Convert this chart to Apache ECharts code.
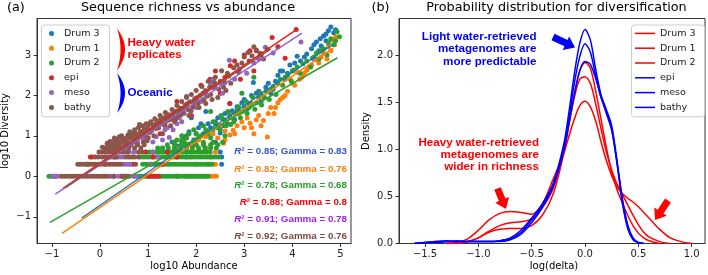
<!DOCTYPE html>
<html>
<head>
<meta charset="utf-8">
<title>Sequence richness / diversification</title>
<script src="https://cdn.jsdelivr.net/npm/echarts@6/dist/echarts.min.js"></script>
<style>
  html, body { margin: 0; padding: 0; background: #fff; }
  #chart { width: 708px; height: 275px; }
</style>
</head>
<body>
<div id="chart"></div>
<script>
// ---- panel (a): log10 abundance vs log10 diversity ----
const drum3Pts = [
  [1.6,0],[1.9,0],[2.1,0],[2.53,0.301],[1.8,0.477],[2.53,0.477],[1.5,0.602],[2.5,0.602],[2.2,0.699],[1.95,0.778],[2.4,0.845],
  [1.3,0.7],[1.5,0.85],[1.62,0.75],[1.75,0.95],[1.85,1.1],[1.95,0.9],[2.05,1.2],[2.15,1.05],[2.25,1.3],[2.35,1.15],[2.45,1.45],
  [2.5,1.07],[2.6,1.55],[2.65,1.3],[2.75,1.62],[2.85,1.72],[2.8,1.4],[2.95,1.82],[3.05,1.65],[3.15,2.0],[3.19,2.32],[3.3,2.1],
  [3.4,1.97],[3.5,2.3],[3.6,2.15],[3.7,2.5],[3.75,2.6],[3.85,2.4],[3.95,2.75],[4.02,2.62],[4.1,2.97],[4.17,2.85],[4.3,3.02],
  [4.4,3.15],[4.5,3.32],[4.55,3.1],[4.65,3.47],[4.7,3.35],[4.75,3.6],[4.8,3.69],[4.86,3.55],[4.6,3.22],[4.42,2.92],[1.9,1.45],
  [2.2,1.6],[3.35,1.85],[3.9,2.55],
  [1.7,0.85],[1.8,1.0],[2.0,1.05],[2.1,1.3],[2.3,1.2],[2.4,1.35],[2.55,1.25],[2.7,1.45],[2.9,1.6],[3.0,1.9],[3.1,1.8],
  [3.25,2.05],[3.45,2.2],[3.55,2.05],[3.65,2.35],[3.8,2.6],[4.05,2.8],[4.25,2.95],[4.45,3.25],[4.58,3.4],[4.7,3.52],[4.9,3.62]
];
const drum1Pts = [
  [1.8,0],[2.0,0],[2.2,0],[2.3,0],[2.36,0],[2.42,0],[2.0,0.301],[2.25,0.301],[2.4,0.301],[1.9,0.477],[2.3,0.477],[1.7,0.602],
  [2.1,0.602],[2.4,0.602],[2.2,0.699],[2.57,0.82],[2.0,0.778],
  [1.6,0.68],[1.8,0.8],[2.05,0.9],[2.2,0.98],[2.35,1.05],[2.45,0.95],[2.6,1.12],[2.7,1.02],[2.77,1.14],[2.85,1.25],[3.0,1.2],
  [3.06,1.44],[3.12,1.31],[3.2,1.05],[3.3,1.5],[3.4,1.38],[3.48,0.97],[3.55,1.7],[3.62,1.55],[3.7,1.82],[3.8,1.95],[3.9,2.1],
  [3.96,2.39],[4.05,2.25],[4.1,2.57],[4.2,2.45],[4.3,2.62],[4.4,2.75],[4.5,2.88],[4.6,2.95],[4.72,2.9],[4.8,3.1],[4.83,3.37],
  [4.88,3.25],[4.9,3.45],[2.5,1.25],[2.9,1.55],
  [2.6,0.9],[2.8,1.05],[2.95,1.35],[3.15,1.2],[3.25,1.4],[3.35,1.25],[3.5,1.55],[3.65,1.7],[3.75,1.9],[3.85,2.0],[4.0,2.3],
  [4.15,2.4],[4.25,2.55],[4.35,2.7],[4.55,2.8],[4.65,3.05],[4.75,3.2]
];
const drum2Pts = [
  [-1.06,0],[-1.0,0],[-0.95,0],
  [0.75,0],[0.81,0],[0.87,0],[0.93,0],[0.99,0],[1.05,0],[1.11,0],[1.17,0],[1.23,0],[1.29,0],[1.35,0],[1.41,0],[1.47,0],[1.53,0],
  [1.59,0],[1.65,0],[1.71,0],[1.77,0],[1.83,0],[1.89,0],[1.95,0],[2.01,0],[2.07,0],[2.13,0],[2.19,0],[2.25,0],
  [0.89,0.301],[0.95,0.301],[1.01,0.301],[1.07,0.301],[1.13,0.301],[1.19,0.301],[1.25,0.301],[1.31,0.301],[1.37,0.301],
  [1.43,0.301],[1.49,0.301],[1.55,0.301],[1.61,0.301],[1.67,0.301],[1.73,0.301],[1.79,0.301],[1.85,0.301],[1.91,0.301],
  [1.97,0.301],[2.03,0.301],[2.09,0.301],[2.15,0.301],[2.21,0.301],[2.27,0.301],[2.33,0.301],
  [0.85,0.477],[0.91,0.477],[0.97,0.477],[1.03,0.477],[1.09,0.477],[1.15,0.477],[1.21,0.477],[1.27,0.477],[1.33,0.477],
  [1.39,0.477],[1.45,0.477],[1.51,0.477],[1.57,0.477],[1.63,0.477],[1.69,0.477],[1.75,0.477],[1.81,0.477],[1.87,0.477],
  [1.93,0.477],[1.99,0.477],[2.05,0.477],[2.11,0.477],[2.17,0.477],[2.23,0.477],[2.29,0.477],[2.35,0.477],[2.41,0.477],[2.47,0.477],
  [0.96,0.602],[1.03,0.602],[1.1,0.602],[1.17,0.602],[1.24,0.602],[1.31,0.602],[1.38,0.602],[1.45,0.602],[1.52,0.602],
  [1.59,0.602],[1.66,0.602],[1.73,0.602],[1.8,0.602],[1.87,0.602],[1.94,0.602],[2.01,0.602],[2.08,0.602],[2.15,0.602],
  [2.22,0.602],[2.29,0.602],
  [1.2,0.699],[1.3,0.699],[1.42,0.699],[1.55,0.699],[1.68,0.699],[1.8,0.699],[1.92,0.699],[2.05,0.699],[2.18,0.699],[2.3,0.699],[2.42,0.699],
  [1.4,0.778],[1.55,0.778],[1.7,0.778],[1.85,0.778],[2.0,0.778],[2.15,0.778],[2.3,0.778],[2.45,0.778],
  [1.55,0.845],[1.75,0.845],[1.95,0.845],[2.15,0.845],[2.35,0.845],[2.55,0.845],
  [1.7,0.903],[2.0,0.903],[2.3,0.954],[2.6,1.0],[2.1,1.0],
  [2.4,1.3],[2.5,1.15],[2.55,1.42],[2.62,1.25],[2.7,1.5],[2.78,1.35],[2.85,1.62],[2.92,1.45],[3.0,1.72],[3.06,1.55],[3.15,1.8],
  [3.22,1.66],[3.3,1.95],[3.36,1.76],[3.45,2.1],[3.52,1.9],[3.6,2.22],[3.66,2.02],[3.75,2.4],[3.8,2.25],[3.9,2.5],[3.98,2.35],
  [4.1,2.7],[4.16,2.55],[4.3,2.85],[4.38,2.7],[4.5,3.05],[4.55,2.9],[4.65,3.15],[4.72,3.0],[4.8,3.4],[4.86,3.25],[4.93,3.57],
  [4.98,3.45],[3.2,2.45],[2.3,1.6],[2.95,2.05],[2.2,1.15],[2.0,1.05],[1.8,0.95],[2.7,1.8],
  [1.6,0.9],[1.7,1.0],[1.85,1.05],[1.95,1.15],[2.05,0.95],[2.15,1.25],[2.25,1.05],[2.35,1.35],[2.45,1.2],[2.52,1.5],
  [2.6,1.38],[2.66,1.6],[2.72,1.28],[2.8,1.55],[2.88,1.72],[2.96,1.6],[3.04,1.85],[3.1,1.7],[3.18,1.95],[3.26,1.82],
  [3.34,2.05],[3.42,1.95],[3.55,2.12],[3.7,2.3],[3.85,2.45],[4.0,2.6],[4.22,2.78],[4.45,2.95],[4.6,3.1],[4.75,3.3],[4.9,3.35]
];
const epiPts = [
  [0.45,0],[0.5,0],[1.0,0],[1.08,0],[1.15,0],[1.22,0],[-0.26,0.301],[0.09,0.301],[0.68,0.301],[1.3,0.301],[-0.2,0.477],
  [-0.16,0.477],[0.3,0.477],[1.1,0.477],[1.6,0.477],[0.95,0.602],[1.4,0.602],
  [0.2,0.85],[0.5,0.75],[0.7,1.05],[1.0,1.15],[1.25,1.05],[1.35,1.3],[1.5,1.42],[1.7,1.6],[1.9,1.5],[2.0,1.9],[2.1,2.25],
  [2.29,2.4],[2.5,2.05],[2.7,1.8],[2.71,2.73],[2.8,2.85],[2.92,2.4],[3.0,3.0],[3.12,3.1],[3.2,2.6],[3.25,3.1],[3.58,3.43],
  [3.85,2.92],[4.08,3.63],[1.6,1.85],[2.4,2.6],
  [0.9,1.0],[1.15,1.2],[1.8,1.75],[2.2,2.1],[2.6,2.45],[3.35,3.0],[3.7,3.2]
];
const mesoPts = [
  [-0.98,0],[-0.92,0],[-0.88,0],[0.22,0],[0.3,0],[0.38,0],[0.55,0],[0.62,0],[0.7,0],[0.76,0],[0.5,0.301],[0.56,0.301],
  [0.62,0.301],[1.05,0.301],[0.36,0.477],[0.42,0.477],[0.48,0.477],[1.2,0.477],[0.6,0.602],[0.7,0.602],[1.1,0.602],
  [0.3,0.7],[0.15,0.78],[0.6,0.9],[0.78,0.85],[0.9,0.9],[1.0,0.95],[1.1,0.85],[1.17,0.98],[1.3,0.9],[1.44,0.96],[1.35,1.15],
  [1.2,1.3],[0.95,1.2],[1.6,1.3],[1.65,1.45],[1.75,1.55],[1.9,1.62],[1.8,1.98],[2.1,1.85],[2.19,2.12],[2.3,2.3],[2.4,2.19],
  [2.35,2.4],[2.55,2.05],[2.69,2.87],[2.8,2.4],[3.05,2.55],[3.2,2.8],[3.44,3.19],[3.6,3.05],[4.18,3.32],
  [0.5,0.78],[0.85,1.05],[1.05,1.1],[1.4,1.2],[1.52,1.15],[1.7,1.35],[2.0,1.7],[2.25,2.0],[2.5,2.3],[2.9,2.65],[3.3,2.9]
];
const bathyPts = [
  [-0.8,0],[-0.74,0],[-0.68,0],[-0.62,0],[-0.56,0],[-0.5,0],[-0.44,0],[-0.38,0],[-0.32,0],[-0.26,0],[-0.2,0],[-0.14,0],
  [-0.08,0],[-0.02,0],[0.04,0],[0.1,0],[0.16,0],[0.28,0],[0.46,0],[0.52,0],[0.58,0],
  [-0.46,0.301],[-0.4,0.301],[-0.34,0.301],[-0.28,0.301],[-0.22,0.301],[-0.16,0.301],[-0.1,0.301],[-0.04,0.301],[0.02,0.301],
  [0.14,0.301],[0.2,0.301],[0.26,0.301],[0.32,0.301],[0.38,0.301],[0.44,0.301],[0.74,0.301],
  [-0.1,0.477],[-0.04,0.477],[0.04,0.477],[0.1,0.477],[0.16,0.477],[0.22,0.477],[0.28,0.477],[0.34,0.477],[0.54,0.477],
  [0.6,0.477],[0.66,0.477],[0.72,0.477],[0.8,0.477],
  [-0.02,0.602],[0.04,0.602],[0.1,0.602],[0.16,0.602],[0.22,0.602],[0.28,0.602],[0.34,0.602],[0.4,0.602],[0.48,0.602],
  [0.56,0.602],[0.8,0.602],[0.88,0.602],
  [0.1,0.699],[0.18,0.699],[0.26,0.699],[0.34,0.699],[0.42,0.699],[0.5,0.699],[0.6,0.699],[0.72,0.699],[0.85,0.699],
  [0.2,0.778],[0.3,0.778],[0.4,0.778],[0.52,0.778],[0.64,0.778],[0.78,0.778],[0.92,0.778],
  [0.28,0.845],[0.4,0.845],[0.55,0.845],[0.7,0.845],[0.9,0.845],
  [0.35,0.903],[0.5,0.903],[0.62,0.954],[0.8,0.954],[1.0,0.954],[0.45,0.954],
  [0.45,1.0],[0.52,0.92],[0.58,1.02],[0.62,1.1],[0.68,1.0],[0.72,1.15],[0.76,1.05],[0.8,1.2],[0.84,1.1],[0.88,1.25],
  [0.92,1.15],[0.96,1.3],[1.0,1.2],[1.03,1.08],[1.06,1.35],[1.1,1.25],[1.14,1.42],[1.17,1.18],[1.2,1.36],[1.25,1.5],
  [1.28,1.3],[1.32,1.44],[1.36,1.58],[1.4,1.38],[1.43,1.52],[1.47,1.25],[1.5,1.65],[1.53,1.46],[1.57,1.6],[1.6,1.75],
  [1.63,1.5],[1.67,1.68],[1.7,1.85],[1.73,1.58],[1.77,1.76],[1.8,1.95],[1.83,1.65],[1.87,1.84],[1.9,2.02],[1.93,1.72],
  [1.97,1.92],[2.0,2.12],[2.04,1.8],[2.08,2.0],[2.12,2.22],[2.16,1.88],[2.2,2.1],[2.25,2.35],[2.3,2.02],[2.35,2.2],
  [2.4,2.45],[2.47,2.15],[2.53,2.61],[2.6,2.32],[2.68,2.48],[2.78,2.68],[2.88,2.58],[3.0,2.95],[3.08,3.06],[3.16,2.98],
  [3.25,3.12],[3.33,3.04],[3.4,2.9],[3.48,3.14],[2.45,1.95],[1.3,1.05],[1.55,1.35],[2.62,2.12],[0.3,0.95],[0.15,0.82],
  [1.12,1.0],[0.98,0.88],[0.74,0.9],[1.85,1.5],[2.2,1.8],
  [0.05,0.72],[0.12,0.66],[0.22,0.86],[0.26,0.74],[0.36,0.82],[0.4,0.98],[0.48,0.86],[0.55,0.95],[0.6,0.8],[0.66,1.06],
  [0.7,0.92],[0.78,0.98],[0.82,1.28],[0.86,1.02],[0.9,1.12],[0.94,1.0],[1.02,1.3],[1.08,1.14],[1.16,1.3],[1.22,1.2],
  [1.26,1.4],[1.34,1.26],[1.38,1.48],[1.45,1.4],[1.52,1.55],[1.58,1.42],[1.62,1.62],[1.68,1.52],[1.75,1.68],[1.82,1.8],
  [1.88,1.62],[1.95,1.82],[2.02,1.95],[2.06,1.7],[2.14,2.05],[2.22,1.98],[2.28,2.2],[2.33,1.9],[2.38,2.32],[2.5,2.35],
  [2.57,2.2],[2.65,2.55],[2.72,2.3],[2.85,2.75],[2.95,2.8],[3.1,2.85],[3.2,3.2]
];
// regression lines (end points)
const drum3Fit = [[-0.38,-1.03],[4.85,3.27]];
const drum1Fit = [[-0.79,-1.41],[4.85,3.17]];
const drum2Fit = [[-1.04,-1.14],[4.94,2.93]];
const epiFit   = [[-0.77,-0.3],[4.1,3.64]];
const mesoFit  = [[-0.93,-0.44],[4.2,3.54]];
const bathyFit = [[-0.72,-0.28],[3.55,3.15]];
const fitLabels = [
  'R² = 0.85; Gamma = 0.83', 'R² = 0.82; Gamma = 0.76', 'R² = 0.78; Gamma = 0.68',
  'R² = 0.88; Gamma = 0.8', 'R² = 0.91; Gamma = 0.78', 'R² = 0.92; Gamma = 0.76'
];
const abundTicks = [-1, 0, 1, 2, 3, 4, 5];
const divTicks = [-1, 0, 1, 2, 3];

// ---- panel (b): KDE of log(delta) ----
const kdeX = [-1.6,-1.5,-1.4,-1.3,-1.2,-1.1,-1.0,-0.9,-0.8,-0.7,-0.6,-0.5,-0.4,-0.3,-0.2,-0.15,-0.1,-0.05,0,
  0.05,0.1,0.15,0.2,0.25,0.3,0.35,0.4,0.45,0.5,0.55,0.6,0.7,0.8,0.9,1.0];
const drum3Kde = ['-','-','-',0.0,0.01,0.05,0.14,0.25,0.32,0.34,0.33,0.31,0.42,0.68,0.95,1.14,1.32,1.46,1.51,
  1.45,1.3,1.08,0.88,0.72,0.6,0.53,0.48,0.44,0.39,0.33,0.27,0.15,0.06,0.02,0.0];
const drum1Kde = ['-','-','-',0.0,0.0,0.02,0.06,0.13,0.19,0.22,0.23,0.26,0.38,0.58,0.98,1.28,1.58,1.83,1.92,
  1.86,1.62,1.32,1.02,0.76,0.57,0.43,0.3,0.19,0.11,0.06,0.03,0.0,'-','-','-'];
const drum2Kde = ['-','-','-',0.0,0.0,0.02,0.06,0.12,0.15,0.16,0.16,0.19,0.3,0.52,0.95,1.26,1.55,1.74,1.77,
  1.7,1.48,1.22,0.97,0.78,0.63,0.52,0.41,0.3,0.2,0.12,0.07,0.02,0.0,'-','-'];
const epiKde = [0.0,0.01,0.02,0.03,0.02,0.02,0.02,0.02,0.02,0.04,0.1,0.22,0.38,0.6,1.0,1.33,1.7,1.98,2.12,
  2.03,1.78,1.55,1.4,1.22,0.85,0.43,0.16,0.04,0.01,0.0,'-','-','-','-','-'];
const mesoKde = [0.0,0.01,0.02,0.02,0.02,0.02,0.02,0.02,0.03,0.06,0.14,0.27,0.42,0.63,1.05,1.4,1.8,2.12,2.27,
  2.16,1.85,1.58,1.42,1.25,0.88,0.46,0.18,0.05,0.01,0.0,'-','-','-','-','-'];
const bathyKde = [0.0,0.01,0.01,0.02,0.03,0.02,0.02,0.02,0.03,0.05,0.12,0.25,0.4,0.62,0.98,1.28,1.58,1.83,1.93,
  1.9,1.75,1.55,1.38,1.2,0.86,0.48,0.2,0.06,0.01,0.0,'-','-','-','-','-'];
const deltaTicks = [-1.5, -1.0, -0.5, 0.0, 0.5, 1.0];
const densTicks = [0.0, 0.5, 1.0, 1.5, 2.0];

const groups = ['Drum 3', 'Drum 1', 'Drum 2', 'epi', 'meso', 'bathy'];
const dotColors = ['#1f77b4', '#ff7f0e', '#2ca02c', '#d62728', '#9467bd', '#8c564b'];
const fitColors = ['#1f77b4', '#ff7f0e', '#2ca02c', '#ee1c1c', '#9a5fd0', '#8c564b'];
const labelColors = ['#3557c8', '#ff7f0e', '#2e9a2e', '#ff0000', '#a020f0', '#7f4a40'];

const FONT = '"DejaVu Sans", sans-serif';
const BOLD = '"Liberation Sans", Arial, sans-serif';
const minus = (s) => s.replace('-', '\u2212');

const chart = echarts.init(document.getElementById('chart'), null, { renderer: 'canvas' });

function valueAxis(gridIndex, min, max, ticks, fmt) {
  return {
    type: 'value', gridIndex, min, max,
    axisLine: { show: true, onZero: false, lineStyle: { color: '#333', width: 1 } },
    axisTick: { show: true, customValues: ticks, length: 3.5, lineStyle: { color: '#333' } },
    axisLabel: { customValues: ticks, formatter: fmt, fontSize: 10, fontFamily: FONT, color: '#222', margin: 6 },
    splitLine: { show: false },
  };
}

function arrow(tail, tip, bodyW, headW, headL, color) {
  const dx = tip[0] - tail[0], dy = tip[1] - tail[1];
  const len = Math.hypot(dx, dy);
  const ux = dx / len, uy = dy / len, nx = -uy, ny = ux;
  const neck = [tip[0] - ux * headL, tip[1] - uy * headL];
  const pts = [
    [tail[0] + nx * bodyW / 2, tail[1] + ny * bodyW / 2],
    [neck[0] + nx * bodyW / 2, neck[1] + ny * bodyW / 2],
    [neck[0] + nx * headW / 2, neck[1] + ny * headW / 2],
    tip,
    [neck[0] - nx * headW / 2, neck[1] - ny * headW / 2],
    [neck[0] - nx * bodyW / 2, neck[1] - ny * bodyW / 2],
    [tail[0] - nx * bodyW / 2, tail[1] - ny * bodyW / 2],
  ];
  return { type: 'polygon', z: 50, shape: { points: pts }, style: { fill: color } };
}

// ")"-shaped crescent: outer and inner quadratic curves sharing the end points
function bracket(x0, y0, h, outer, inner, color) {
  const pts = [];
  for (let k = 0; k <= 20; k++) {
    const t = k / 20;
    pts.push([x0 + 2 * t * (1 - t) * outer, y0 + t * h]);
  }
  for (let k = 19; k >= 1; k--) {
    const t = k / 20;
    pts.push([x0 + 2 * t * (1 - t) * inner, y0 + t * h]);
  }
  return { type: 'polygon', z: 50, shape: { points: pts }, style: { fill: color } };
}

function label(text, x, y, opts) {
  return {
    type: 'text', x, y, z: 50, rotation: opts.rotation || 0,
    style: Object.assign({ text, fill: '#000', font: '10px ' + FONT, align: 'center', verticalAlign: 'middle' }, opts.style || {}),
  };
}

const pointSets = [drum3Pts, drum1Pts, drum2Pts, epiPts, mesoPts, bathyPts];
const fitSets = [drum3Fit, drum1Fit, drum2Fit, epiFit, mesoFit, bathyFit];
const kdeSets = [drum3Kde, drum1Kde, drum2Kde, epiKde, mesoKde, bathyKde];
const kdeColors = ['#ff0000', '#ff0000', '#ff0000', '#0000ff', '#0000ff', '#0000ff'];

const series = [];
groups.forEach((g, i) => {
  series.push({
    name: g, type: 'scatter', xAxisIndex: 0, yAxisIndex: 0, data: pointSets[i],
    symbol: 'circle', symbolSize: 5, itemStyle: { color: dotColors[i], opacity: 1 }, z: 2, silent: true,
  });
});
groups.forEach((g, i) => {
  series.push({
    name: g + ' fit', type: 'line', xAxisIndex: 0, yAxisIndex: 0, data: fitSets[i],
    symbol: 'none', showSymbol: false, lineStyle: { color: fitColors[i], width: 1.5 }, z: 3, silent: true,
  });
});
groups.forEach((g, i) => {
  series.push({
    name: g + ' ', type: 'line', xAxisIndex: 1, yAxisIndex: 1,
    data: kdeX.map((x, k) => [x, kdeSets[i][k]]),
    symbol: 'none', showSymbol: false, smooth: 0.3, color: kdeColors[i],
    lineStyle: { color: kdeColors[i], width: 1.5 }, z: 3, silent: true,
  });
});

const graphics = [
  label('(a)', 7, 8, { style: { align: 'left', font: '12.8px ' + FONT } }),
  label('Sequence richness vs abundance', 188, 7.5, { style: { font: '12.8px ' + FONT } }),
  label('(b)', 371.5, 8, { style: { align: 'left', font: '12.8px ' + FONT } }),
  label('Probability distribution for diversification', 556.5, 7.5, { style: { font: '12.8px ' + FONT } }),
  label('log10 Abundance', 194, 266.5, {}),
  label('log(delta)', 554, 266.5, {}),
  label('log10 Diversity', 5, 131, { rotation: Math.PI / 2 }),
  label('Density', 366.5, 131, { rotation: Math.PI / 2 }),
  bracket(117, 28.5, 42, 16, 7, '#ff0000'),
  bracket(117, 73, 40, 16, 7, '#0000ff'),
  label('Heavy water\nreplicates', 127.5, 37, { style: { align: 'left', verticalAlign: 'top', fill: '#ff0000', font: 'bold 11.6px ' + BOLD, lineHeight: 12 } }),
  label('Oceanic', 127.5, 92.5, { style: { align: 'left', fill: '#0000ff', font: 'bold 11.6px ' + BOLD } }),
  label('Light water-retrieved\nmetagenomes are\nmore predictable', 536.5, 30, { style: { align: 'right', verticalAlign: 'top', fill: '#0000ff', font: 'bold 11.6px ' + BOLD, lineHeight: 12.6 } }),
  label('Heavy water-retrieved\nmetagenomes are\nwider in richness', 539, 137, { style: { align: 'right', verticalAlign: 'top', fill: '#ff0000', font: 'bold 11.6px ' + BOLD, lineHeight: 11.9 } }),
  arrow([553, 37], [575, 47.5], 7, 15, 10, '#0000ff'),
  arrow([497.5, 188.5], [506, 209], 7, 15, 10, '#ff0000'),
  arrow([668, 200.5], [655, 220], 7, 15, 10, '#ff0000'),
];
const fitY = [151.7, 169, 185.7, 202.3, 219, 236.5];
fitLabels.forEach((t, i) => {
  const rest = t.slice(1);
  graphics.push({
    type: 'text', x: 347, y: fitY[i], z: 50,
    style: {
      text: '{i|R}' + rest, fill: labelColors[i], font: 'bold 9.8px ' + BOLD, align: 'right', verticalAlign: 'middle',
      rich: { i: { font: 'italic bold 9.8px ' + BOLD, fill: labelColors[i] } },
    },
  });
});

const legendText = { fontSize: 9.5, fontFamily: FONT, color: '#222', lineHeight: 14.8 };

chart.setOption({
  animation: false,
  backgroundColor: '#fff',
  grid: [
    { left: 37, top: 18.5, width: 314, height: 225, show: true, borderColor: '#333', borderWidth: 1 },
    { left: 399, top: 18.5, width: 306, height: 225, show: true, borderColor: '#333', borderWidth: 1 },
  ],
  xAxis: [
    valueAxis(0, -1.31, 5.22, abundTicks, (v) => minus(String(v))),
    valueAxis(1, -1.744, 1.125, deltaTicks, (v) => minus(v.toFixed(1))),
  ],
  yAxis: [
    valueAxis(0, -1.66, 3.9, divTicks, (v) => minus(String(v))),
    valueAxis(1, 0, 2.387, densTicks, (v) => v.toFixed(1)),
  ],
  legend: [
    {
      data: groups, orient: 'vertical', left: 41.5, top: 25, padding: [1, 10, 2, 7.5], itemGap: 0,
      itemWidth: 15, itemHeight: 5, icon: 'circle', textStyle: legendText,
      borderColor: '#cccccc', borderWidth: 1, borderRadius: 3, backgroundColor: 'rgba(255,255,255,0.8)',
      selectedMode: false,
    },
    {
      data: groups.map((g) => g + ' '), orient: 'vertical', left: 631.5, top: 25, padding: [1, 6, 2, 3.5], itemGap: 0,
      itemWidth: 20, itemHeight: 1.5, icon: 'path://M0,0H20V1.5H0Z', textStyle: legendText,
      borderColor: '#cccccc', borderWidth: 1, borderRadius: 3, backgroundColor: 'rgba(255,255,255,0.8)',
      selectedMode: false,
    },
  ],
  graphic: { elements: graphics },
  series,
});
</script>
</body>
</html>
